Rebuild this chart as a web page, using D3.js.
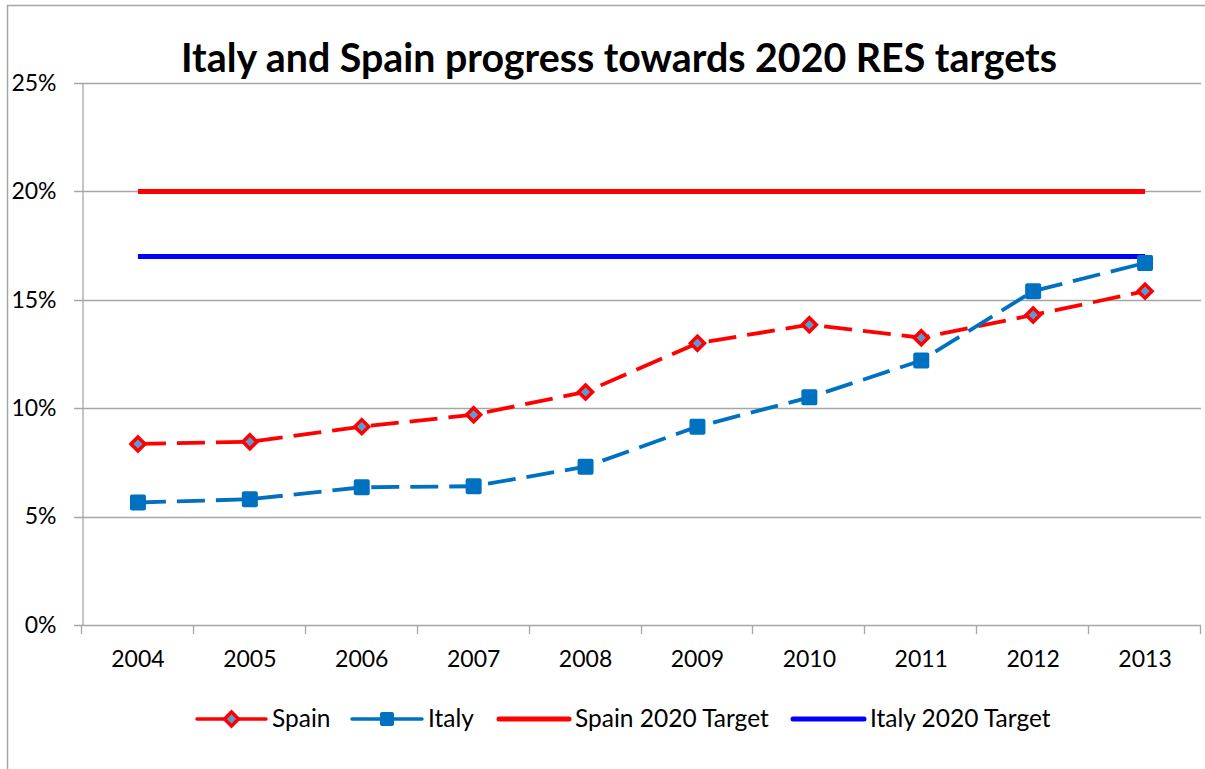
<!DOCTYPE html>
<html>
<head>
<meta charset="utf-8">
<script src="https://d3js.org/d3.v7.min.js"></script>
<style>
  body { margin: 0; background: #fff; }
  svg { display: block; font-family: Lato, "Open Sans", sans-serif; }
</style>
</head>
<body>
<div id="chart"></div>
<script>
// values (percent share of renewables)
var years = ['2004', '2005', '2006', '2007', '2008', '2009', '2010', '2011', '2012', '2013']
var spain = [8.35, 8.45, 9.15, 9.7, 10.75, 13.0, 13.85, 13.25, 14.3, 15.4]
var italy = [5.65, 5.8, 6.35, 6.4, 7.3, 9.15, 10.5, 12.2, 15.4, 16.7]
var spainTarget = [20, 20, 20, 20, 20, 20, 20, 20, 20, 20]
var italyTarget = [17, 17, 17, 17, 17, 17, 17, 17, 17, 17]
var yTicks = [0, 5, 10, 15, 20, 25]

var W = 1205, H = 769
var plotL = 82, plotR = 1201, plotT = 83, plotB = 625
var grey = '#a6a6a6'

var svg = d3.select('#chart').append('svg').attr('width', W).attr('height', H)

// chart frame
svg.append('path')
    .attr('d', 'M7.5,' + H + 'V5.5H' + W)
    .attr('fill', 'none').attr('stroke', grey).attr('stroke-width', 1.5)

var x = d3.scaleBand().domain(years).range([plotL, plotR])
var y = d3.scaleLinear().domain([0, 25]).range([plotB, plotT])

// gridlines
svg.append('g')
    .selectAll('line')
    .data(yTicks)
    .join('line')
    .attr('x1', plotL - 8).attr('x2', plotR)
    .attr('y1', function(d) { return Math.round(y(d)) + 0.5 })
    .attr('y2', function(d) { return Math.round(y(d)) + 0.5 })
    .attr('stroke', grey).attr('stroke-width', 1.3)

// y axis
var yAxis = svg.append('g')
    .attr('transform', 'translate(' + (plotL + 0.5) + ',0)')
    .call(d3.axisLeft(y).tickValues(yTicks).tickSize(0).tickPadding(26)
        .tickFormat(function(d) { return d + '%' }))
yAxis.select('.domain').attr('stroke', grey).attr('stroke-width', 1.3)
yAxis.selectAll('text').attr('font-size', 23).attr('fill', '#000')
    .attr('font-family', 'Lato, sans-serif')

// x axis
var xAxis = svg.append('g')
    .attr('transform', 'translate(0,' + (Math.round(y(0)) + 0.5) + ')')
    .call(d3.axisBottom(x).tickSize(0).tickPadding(25))
xAxis.select('.domain').remove()
xAxis.selectAll('text').attr('font-size', 23).attr('fill', '#000')
    .attr('font-family', 'Lato, sans-serif')
var bounds = years.map(function(d) { return x(d) }).concat([plotR])
svg.append('g')
    .selectAll('line')
    .data(bounds)
    .join('line')
    .attr('x1', function(d) { return Math.round(d) - 0.5 })
    .attr('x2', function(d) { return Math.round(d) - 0.5 })
    .attr('y1', plotB).attr('y2', plotB + 9)
    .attr('stroke', grey).attr('stroke-width', 1.3)

var cx = function(d, i) { return x(years[i]) + x.bandwidth() / 2 }
var line = d3.line().x(cx).y(function(d) { return y(d) })

// target lines
svg.append('path').datum(spainTarget).attr('d', line)
    .attr('fill', 'none').attr('stroke', '#ff0000').attr('stroke-width', 5)
svg.append('path').datum(italyTarget).attr('d', line)
    .attr('fill', 'none').attr('stroke', '#0000ff').attr('stroke-width', 5)

// data lines
svg.append('path').datum(spain).attr('d', line)
    .attr('fill', 'none').attr('stroke', '#ff0000').attr('stroke-width', 3.8)
    .attr('stroke-dasharray', '28,11')
svg.append('path').datum(italy).attr('d', line)
    .attr('fill', 'none').attr('stroke', '#0070c0').attr('stroke-width', 3.8)
    .attr('stroke-dasharray', '28,11')

var diamond = 'M0,-7L7,0L0,7L-7,0Z'

svg.append('g')
    .selectAll('path')
    .data(spain)
    .join('path')
    .attr('transform', function(d, i) { return 'translate(' + cx(d, i) + ',' + y(d) + ')' })
    .attr('d', diamond)
    .attr('fill', '#5b9bd5').attr('stroke', '#ff0000').attr('stroke-width', 3.5)

svg.append('g')
    .selectAll('rect')
    .data(italy)
    .join('rect')
    .attr('x', function(d, i) { return cx(d, i) - 8 })
    .attr('y', function(d) { return y(d) - 8 })
    .attr('width', 16).attr('height', 16).attr('rx', 2)
    .attr('fill', '#0070c0')

// title
svg.append('text')
    .attr('x', 619).attr('y', 72)
    .attr('text-anchor', 'middle')
    .attr('font-size', 40).attr('font-weight', 'bold')
    .attr('textLength', 876).attr('lengthAdjust', 'spacingAndGlyphs')
    .text('Italy and Spain progress towards 2020 RES targets')

// legend
var ly = 719
var legend = [
    { name: 'Spain', x0: 197, x1: 266, color: '#ff0000', w: 3.5, mark: 'diamond' },
    { name: 'Italy', x0: 352, x1: 422, color: '#0070c0', w: 3.5, mark: 'square' },
    { name: 'Spain 2020 Target', x0: 499, x1: 569, color: '#ff0000', w: 5, mark: null },
    { name: 'Italy 2020 Target', x0: 793, x1: 864, color: '#0000ff', w: 5, mark: null }
]
var lg = svg.append('g').selectAll('g').data(legend).join('g')
lg.append('line')
    .attr('x1', function(d) { return d.x0 }).attr('x2', function(d) { return d.x1 })
    .attr('y1', ly).attr('y2', ly)
    .attr('stroke', function(d) { return d.color }).attr('stroke-width', function(d) { return d.w })
    .attr('stroke-linecap', 'round')
lg.filter(function(d) { return d.mark === 'diamond' }).append('path')
    .attr('transform', function(d) { return 'translate(' + (d.x0 + d.x1) / 2 + ',' + ly + ')' })
    .attr('d', diamond)
    .attr('fill', '#5b9bd5').attr('stroke', '#ff0000').attr('stroke-width', 3.5)
lg.filter(function(d) { return d.mark === 'square' }).append('rect')
    .attr('x', function(d) { return (d.x0 + d.x1) / 2 - 7 }).attr('y', ly - 7)
    .attr('width', 14).attr('height', 14).attr('rx', 2)
    .attr('fill', '#0070c0')
lg.append('text')
    .attr('x', function(d) { return d.x1 + 6 }).attr('y', ly + 8)
    .attr('font-size', 24.5)
    .text(function(d) { return d.name })
</script>
</body>
</html>
